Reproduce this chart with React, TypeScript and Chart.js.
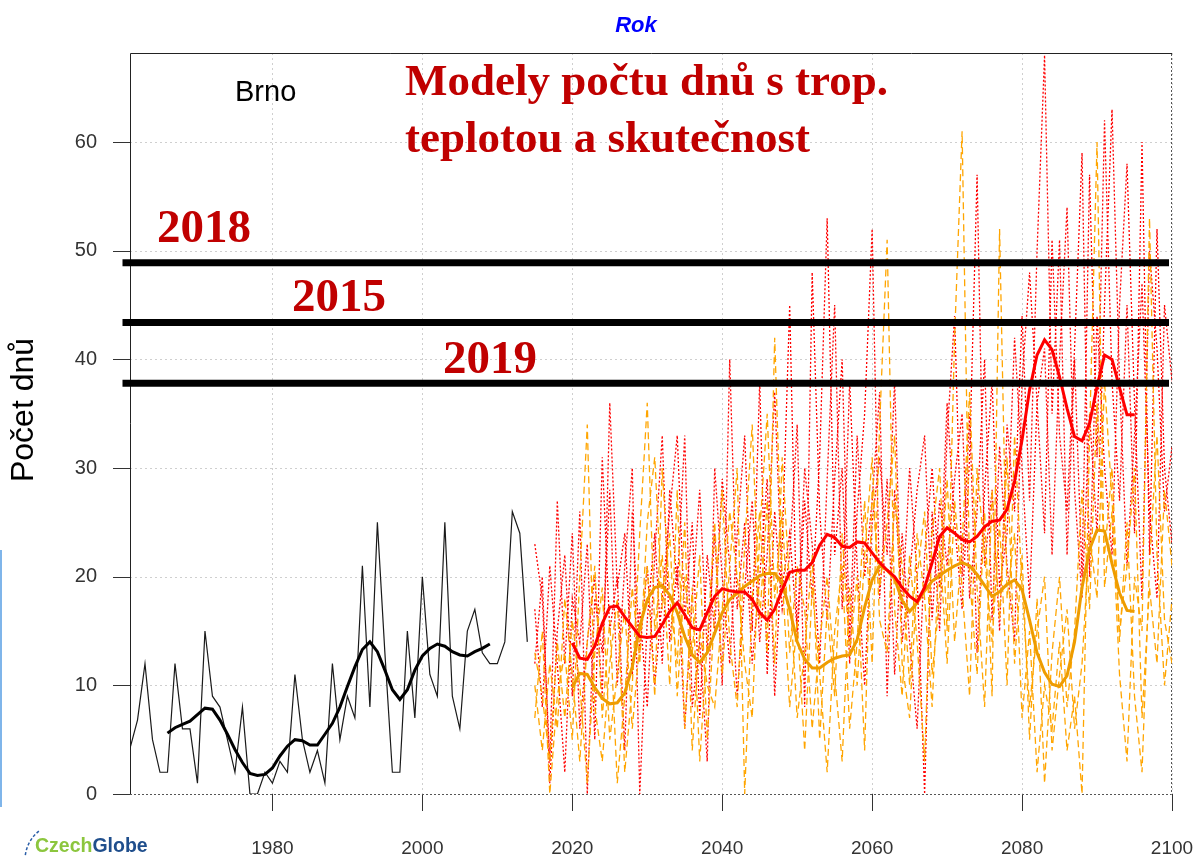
import React, { useEffect, useRef } from 'react';
import { Chart, registerables } from 'chart.js';

Chart.register(...registerables);

// ---------- DATA ----------
const OBS_START = 1961;
const observed = [
  4.2, 6.8, 12, 5, 2, 2, 12, 6, 6, 1,
  15, 9, 8, 5, 2, 8, 0, 0, 2, 1,
  3, 2, 11, 5, 2, 4, 1, 12, 5, 9,
  7, 21, 8, 25, 13, 2, 2, 15, 7, 20,
  11, 9, 25, 9, 6, 15, 17, 13, 12, 12,
  14, 26, 24, 14,
];

const OBS_SMOOTH_START = 1966;
const observedSmooth = [
  5.6, 6.1, 6.4, 6.7, 7.3, 7.9, 7.8, 6.8, 5.5, 4.1,
  2.9, 1.9, 1.7, 1.8, 2.4, 3.5, 4.4, 5.0, 4.9, 4.5,
  4.5, 5.5, 6.5, 8.0, 9.9, 11.7, 13.3, 14.0, 13.1, 11.4,
  9.6, 8.7, 9.6, 11.4, 12.7, 13.4, 13.8, 13.6, 13.1, 12.8,
  12.7, 13.1, 13.4, 13.8,
];

const MODEL_START = 2015;
const redModel1 = [
  23, 18, 3, 27, 12, 24, 6, 14, 20, 9,
  36, 19, 24, 11, 17, 8, 22, 33, 14, 21,
  6, 18, 28, 13, 24, 10, 40, 17, 25, 12,
  20, 29, 9, 23, 45, 14, 27, 18, 31, 53,
  22, 30, 12, 26, 35, 52, 18, 29, 11, 24,
  14, 6, 22, 30, 19, 36, 25, 17, 31, 57,
  21, 28, 15, 34, 26, 44, 27, 50, 68, 35,
  51, 22, 40, 20, 57, 31, 62, 38, 27, 45,
  24, 60, 22, 52, 30, 23,
];
const redModel2 = [
  12, 20, 1, 15, 22, 9, 26, 0, 18, 13,
  28, 10, 21, 30, 0, 16, 24, 12, 28, 19,
  33, 8, 14, 3, 30, 20, 12, 24, 33, 15,
  38, 11, 26, 17, 22, 34, 8, 48, 26, 16,
  29, 40, 14, 33, 20, 27, 37, 9, 28, 17,
  30, 20, 0, 26, 15, 33, 44, 20, 35, 13,
  28, 38, 19, 24, 42, 30, 18, 36, 41, 22,
  40, 54, 28, 18, 35, 24, 45, 63, 38, 21,
  33, 47, 26, 18, 45, 38,
];
const redModel3 = [
  17, 8, 21, 12, 2, 18, 14, 23, 5, 31,
  15, 20, 4, 26, 13, 21, 10, 18, 26, 33,
  16, 25, 7, 22, 15, 29, 21, 9, 19, 27,
  14, 22, 37, 19, 24, 15, 30, 23, 12, 29,
  45, 17, 38, 21, 10, 25, 31, 22, 38, 14,
  20, 28, 33, 16, 27, 21, 29, 35, 18, 26,
  40, 16, 32, 21, 14, 38, 48, 36, 24, 51,
  33, 26, 41, 59, 20, 44, 30, 22, 45, 58,
  36, 18, 50, 41, 26, 32,
];
const orangeModel1 = [
  7, 15, 0, 9, 13, 5, 20, 34, 8, 3,
  12, 18, 2, 10, 24, 36, 15, 22, 10, 28,
  6, 19, 3, 14, 25, 11, 21, 30, 0, 18,
  26, 13, 42, 20, 8, 16, 4, 19, 11, 2,
  15, 21, 6, 14, 27, 12, 34, 51, 17, 9,
  22, 14, 3, 24, 30, 15, 42, 61, 20, 11,
  26, 9, 52, 18, 24, 7, 15, 2, 10, 6,
  14, 4, 9, 0, 33, 60, 19, 26, 11, 3,
  20, 15, 53, 22, 10, 18,
];
const orangeModel2 = [
  10, 4, 12, 6, 18, 11, 3, 14, 21, 7,
  16, 1, 9, 19, 12, 25, 31, 17, 24, 9,
  20, 13, 22, 5, 17, 28, 14, 8, 23, 34,
  16, 27, 12, 31, 19, 7, 13, 22, 5, 17,
  9, 24, 13, 20, 4, 28, 19, 25, 33, 12,
  7, 20, 26, 11, 18, 29, 14, 23, 37, 19,
  8, 28, 16, 31, 12, 22, 5, 18, 1, 13,
  20, 8, 15, 28, 17, 36, 22, 30, 14, 25,
  9, 2, 21, 33, 16, 12,
];
const orangeModel3 = [
  13, 9, 3, 14, 7, 16, 10, 1, 13, 19,
  5, 11, 17, 6, 14, 21, 9, 30, 18, 12,
  25, 4, 15, 10, 8, 17, 26, 20, 12, 7,
  24, 35, 18, 26, 13, 21, 17, 6, 14, 20,
  11, 3, 19, 10, 22, 31, 16, 13, 27, 21,
  10, 24, 18, 8, 23, 12, 27, 19, 9, 30,
  22, 14, 25, 10, 33, 19, 8, 15, 20, 4,
  11, 17, 6, 12, 24, 18, 38, 27, 15, 21,
  30, 7, 19, 12, 28, 21,
];

const SMOOTH_START = 2020;
const redSmooth = [
  13.9, 12.5, 12.4, 13.6, 15.7, 17.2, 17.3, 16.3, 15.4, 14.5,
  14.4, 14.5, 15.6, 16.8, 17.6, 16.5, 15.3, 15.1, 16.7, 18.2,
  18.9, 18.7, 18.6, 18.6, 17.9, 16.7, 16.0, 17.0, 18.8, 20.4,
  20.6, 20.6, 21.3, 22.9, 23.9, 23.6, 22.8, 22.7, 23.2, 23.1,
  22.2, 21.3, 20.6, 20.0, 19.0, 18.2, 17.7, 19.0, 21.3, 23.7,
  24.5, 24.0, 23.4, 23.2, 23.7, 24.6, 25.1, 25.2, 26.2, 28.8,
  32.6, 37.2, 40.4, 41.8, 40.9, 38.4, 35.5, 32.9, 32.5, 34.1,
  37.5, 40.4, 40.0, 37.4, 34.9, 34.9,
];
const orangeSmooth = [
  9.8, 11.1, 11.0, 9.8, 8.8, 8.3, 8.4, 9.3, 11.7, 15.4,
  17.9, 19.0, 19.2, 18.3, 16.7, 14.5, 12.8, 12.1, 13.0, 14.8,
  16.7, 17.9, 18.5, 19.1, 19.6, 20.1, 20.3, 20.3, 19.4, 17.0,
  14.0, 12.4, 11.6, 11.6, 12.1, 12.5, 12.7, 12.8, 14.2, 17.2,
  19.7, 21.0, 20.6, 19.8, 17.8, 16.8, 17.6, 18.7, 19.6, 20.1,
  20.6, 21.0, 21.3, 21.0, 20.2, 19.2, 18.2, 18.6, 19.3, 19.7,
  18.8, 16.0, 13.0, 11.2, 10.1, 9.9, 10.9, 14.0, 19.0, 22.5,
  24.3, 24.2, 21.2, 18.5, 16.9, 16.8,
];

const refLabels = ['2018', '2015', '2019'];
const refValues = [48.9, 43.4, 37.8];
const refFrom = 1960;
const refTo = 2099.6;

const xTicks = [1980, 2000, 2020, 2040, 2060, 2080, 2100];
const yTicks = [0, 10, 20, 30, 40, 50, 60];
const X_MIN = 1961;
const X_MAX = 2100;
const Y_MIN = 0;
const Y_MAX = 68.2;

// ---------- HELPERS ----------
const toPoints = (start: number, vals: number[]) =>
  vals.map((v, i) => ({ x: start + i, y: v }));

const SANS = '"Liberation Sans", Arial, sans-serif';
const SERIF = '"Liberation Serif", "Times New Roman", serif';

const framePlugin = {
  id: 'frameGrid',
  beforeDatasetsDraw(chart: any) {
    const { ctx, chartArea: a, scales } = chart;
    const x = scales.x;
    const y = scales.y;
    ctx.save();
    // grid
    ctx.strokeStyle = '#cfcfcf';
    ctx.lineWidth = 1;
    ctx.setLineDash([2, 3]);
    xTicks.forEach((v) => {
      const px = Math.round(x.getPixelForValue(v)) + 0.5;
      ctx.beginPath();
      ctx.moveTo(px, a.top);
      ctx.lineTo(px, a.bottom);
      ctx.stroke();
    });
    yTicks.forEach((v) => {
      if (v === 0) return;
      const py = Math.round(y.getPixelForValue(v)) + 0.5;
      ctx.beginPath();
      ctx.moveTo(a.left, py);
      ctx.lineTo(a.right, py);
      ctx.stroke();
    });
    // tick marks
    ctx.setLineDash([]);
    ctx.strokeStyle = '#333';
    xTicks.forEach((v) => {
      const px = Math.round(x.getPixelForValue(v)) + 0.5;
      ctx.beginPath();
      ctx.moveTo(px, a.bottom);
      ctx.lineTo(px, a.bottom + 17);
      ctx.stroke();
    });
    yTicks.forEach((v) => {
      const py = Math.round(y.getPixelForValue(v)) + 0.5;
      ctx.beginPath();
      ctx.moveTo(a.left - 17, py);
      ctx.lineTo(a.left, py);
      ctx.stroke();
    });
    // frame: top and left solid
    ctx.strokeStyle = '#222';
    ctx.beginPath();
    ctx.moveTo(Math.round(a.left) + 0.5, Math.round(a.bottom));
    ctx.lineTo(Math.round(a.left) + 0.5, Math.round(a.top) + 0.5);
    ctx.lineTo(Math.round(a.right), Math.round(a.top) + 0.5);
    ctx.stroke();
    // bottom and right dotted
    ctx.strokeStyle = '#555';
    ctx.setLineDash([2, 2]);
    ctx.beginPath();
    ctx.moveTo(Math.round(a.left), Math.round(a.bottom) + 0.5);
    ctx.lineTo(Math.round(a.right) - 0.5, Math.round(a.bottom) + 0.5);
    ctx.lineTo(Math.round(a.right) - 0.5, Math.round(a.top));
    ctx.stroke();
    ctx.restore();
  },
};

const textPlugin = {
  id: 'texts',
  afterDraw(chart: any) {
    const { ctx } = chart;
    ctx.save();
    ctx.setLineDash([]);
    // "Rok"
    ctx.fillStyle = '#0000FF';
    ctx.font = `italic bold 22px ${SANS}`;
    ctx.textAlign = 'center';
    ctx.textBaseline = 'alphabetic';
    ctx.fillText('Rok', 636, 32);

    // Title
    ctx.fillStyle = '#C00000';
    ctx.font = `bold 45px ${SERIF}`;
    ctx.textAlign = 'left';
    ctx.fillText('Modely počtu dnů s trop.', 405, 95);
    ctx.fillText('teplotou a skutečnost', 405, 152);

    // Reference year labels
    ctx.font = `bold 47px ${SERIF}`;
    const refPos = [
      [157, 242],
      [292, 311],
      [443, 373],
    ];
    refLabels.forEach((t, i) => {
      ctx.fillText(t, refPos[i][0], refPos[i][1]);
    });

    // Brno
    ctx.fillStyle = '#000';
    ctx.font = `29px ${SANS}`;
    ctx.fillText('Brno', 235, 101);

    // Y axis title
    ctx.save();
    ctx.translate(33, 410);
    ctx.rotate(-Math.PI / 2);
    ctx.textAlign = 'center';
    ctx.textBaseline = 'alphabetic';
    ctx.font = `32px ${SANS}`;
    ctx.fillStyle = '#000';
    ctx.fillText('Počet dnů', 0, 0);
    ctx.restore();

    // left blue bar
    ctx.fillStyle = '#7fb5ea';
    ctx.fillRect(0, 550, 2, 257);

    // CzechGlobe logo
    ctx.font = `bold 19.5px ${SANS}`;
    ctx.textBaseline = 'middle';
    ctx.textAlign = 'left';
    ctx.fillStyle = '#8CC63E';
    ctx.fillText('Czech', 35, 847);
    const w = ctx.measureText('Czech').width;
    ctx.fillStyle = '#1F4E8C';
    ctx.fillText('Globe', 35 + w, 847);
    ctx.strokeStyle = '#2a5ea8';
    ctx.lineWidth = 1.5;
    ctx.setLineDash([3, 2]);
    ctx.beginPath();
    ctx.arc(62, 860, 37, Math.PI * 1.0, Math.PI * 1.3);
    ctx.stroke();
    ctx.restore();
  },
};

export default function App() {
  const canvasRef = useRef<HTMLCanvasElement | null>(null);

  useEffect(() => {
    const canvas = canvasRef.current;
    if (!canvas) return;

    const base = { pointRadius: 0, pointHoverRadius: 0, tension: 0, fill: false };

    const refSets = refValues.map((v, i) => ({
      ...base,
      label: refLabels[i],
      data: [
        { x: refFrom, y: v },
        { x: refTo, y: v },
      ],
      borderColor: '#000',
      borderWidth: 7,
      clip: false as any,
    }));

    const redModels = [redModel1, redModel2, redModel3].map((d, i) => ({
      ...base,
      label: `red model ${i + 1}`,
      data: toPoints(MODEL_START, d),
      borderColor: '#FF0000',
      borderWidth: 1.3,
      borderDash: [2, 2],
    }));
    const orangeModels = [orangeModel1, orangeModel2, orangeModel3].map((d, i) => ({
      ...base,
      label: `orange model ${i + 1}`,
      data: toPoints(MODEL_START, d),
      borderColor: '#FFA500',
      borderWidth: 1.3,
      borderDash: [7, 4],
    }));

    const datasets: any[] = [
      ...refSets,
      {
        ...base,
        label: 'red smooth',
        data: toPoints(SMOOTH_START, redSmooth),
        borderColor: '#FF0000',
        borderWidth: 3,
      },
      {
        ...base,
        label: 'orange smooth',
        data: toPoints(SMOOTH_START, orangeSmooth),
        borderColor: '#EE9C00',
        borderWidth: 3,
      },
      {
        ...base,
        label: 'observed smooth',
        data: toPoints(OBS_SMOOTH_START, observedSmooth),
        borderColor: '#000',
        borderWidth: 3,
      },
      ...orangeModels,
      ...redModels,
      {
        ...base,
        label: 'observed',
        data: toPoints(OBS_START, observed),
        borderColor: '#1a1a1a',
        borderWidth: 1.2,
      },
    ];

    const tickFont = { family: SANS, size: 19 };

    const chart = new Chart(canvas, {
      type: 'line',
      data: { datasets },
      options: {
        animation: false,
        responsive: false,
        devicePixelRatio: 1,
        events: [],
        layout: { padding: { left: 0, right: 21, top: 53, bottom: 0 } },
        plugins: {
          legend: { display: false },
          tooltip: { enabled: false },
          title: { display: false },
        },
        scales: {
          x: {
            type: 'linear',
            min: X_MIN,
            max: X_MAX,
            grid: { display: false },
            border: { display: false },
            afterBuildTicks: (s: any) => {
              s.ticks = xTicks.map((v) => ({ value: v }));
            },
            afterFit: (s: any) => {
              s.height = 63;
              s.paddingLeft = 0;
              s.paddingRight = 0;
            },
            ticks: {
              padding: 35,
              color: '#333',
              font: tickFont,
              maxRotation: 0,
              autoSkip: false,
              callback: (v: any) => String(v),
            },
          },
          y: {
            type: 'linear',
            min: Y_MIN,
            max: Y_MAX,
            grid: { display: false },
            border: { display: false },
            afterBuildTicks: (s: any) => {
              s.ticks = yTicks.map((v) => ({ value: v }));
            },
            afterFit: (s: any) => {
              s.width = 130;
              s.paddingTop = 0;
              s.paddingBottom = 0;
            },
            ticks: {
              padding: 25,
              color: '#333',
              font: { family: SANS, size: 20 },
              autoSkip: false,
              callback: (v: any) => String(v),
            },
          },
        },
      } as any,
      plugins: [framePlugin, textPlugin],
    });

    return () => chart.destroy();
  }, []);

  return (
    <div
      style={{
        position: 'absolute',
        left: 0,
        top: 0,
        width: 1193,
        height: 857,
        background: '#fff',
      }}
    >
      <canvas
        ref={canvasRef}
        width={1193}
        height={857}
        style={{ display: 'block', width: 1193, height: 857 }}
      />
    </div>
  );
}
